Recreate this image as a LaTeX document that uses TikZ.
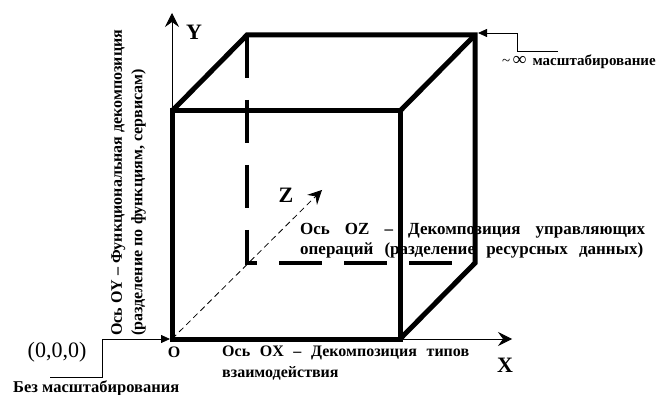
\documentclass[tikz,border=0pt]{standalone}
\usepackage{fontspec}
\setmainfont{Liberation Serif}
\usetikzlibrary{arrows.meta,positioning}
\tikzset{
  cubeedge/.style={line width=5pt,line join=miter},
  hiddenedge/.style={line width=4pt,dash pattern=on 43pt off 22pt},
  axis/.style={line width=0.8pt,-{Stealth[length=14pt,width=14pt,inset=5pt]}},
  zaxis/.style={axis,dash pattern=on 6pt off 4pt},
  callout/.style={line width=0.8pt,-{Triangle[length=9pt,width=8pt]}},
  axisname/.style={font=\fontsize{22}{24}\selectfont\bfseries,inner sep=0pt},
  caption/.style={font=\fontsize{16}{20.5}\selectfont\bfseries,align=left,inner sep=0pt}
}

\begin{document}
\begin{tikzpicture}[x=1pt,y=-1pt]
  \useasboundingbox (0,0) rectangle (661,395);
  % cube corners
  \coordinate (O) at (172,339);
  \coordinate (B) at (400,339);
  \coordinate (C) at (400,111);
  \coordinate (D) at (172,111);
  \coordinate (E) at (247,263);
  \coordinate (F) at (475,263);
  \coordinate (G) at (475,35);
  \coordinate (H) at (247,35);
  % axes
  \coordinate (xtip) at (512,339);
  \coordinate (ytip) at (172,13);
  \coordinate (ztip) at (322,190);
  \draw[axis] (O) -- (xtip);
  \draw[axis] (O) -- (ytip);
  \draw[zaxis] (O) -- (ztip);
  \node[axisname] (xname) at (505,365) {X};
  \node[axisname] (yname) at (194,32) {Y};
  \node[axisname] (zname) at (286,195) {Z};
  % captions
  \node[caption,anchor=north west] (oxlabel) at (222,346)
    {\makebox[247pt][s]{Ось OX – Декомпозиция типов}\\взаимодействия};
  \node[caption,anchor=north west,rotate=90] (oylabel) at (111,336)
    {Ось OY – Функциональная декомпозиция\\\makebox[267pt][s]{(разделение по функциям, сервисам)}};
  \node[caption,font=\fontsize{17}{20}\selectfont\bfseries,anchor=north west] (ozlabel) at (300,223)
    {\makebox[345pt][s]{Ось OZ – Декомпозиция управляющих}\\\makebox[343pt][s]{операций (разделение ресурсных данных)}};
  \node[caption] (oname) at (174,352) {O};
  \node[font=\fontsize{22}{24}\selectfont,inner sep=0pt] (origin) at (57,352) {(0,0,0)};
  \node[caption,font=\fontsize{16.5}{20}\selectfont\bfseries,anchor=base west] (noscale) at (13,392) {Без масштабирования};
  \node[caption,font=\fontsize{15}{20}\selectfont\bfseries,anchor=base west] (infscale) at (502,66)
    {{\mdseries\textasciitilde}\,{\fontsize{19}{20}\selectfont ∞}\, масштабирование};
  % callouts
  \coordinate (nsend) at (50,377);
  \coordinate (nsbend) at (102,339);
  \draw[callout] (nsend) -| (nsbend) -- ([xshift=-2pt]O);
  \coordinate (isend) at (558,51);
  \coordinate (isbend) at (517,33);
  \draw[callout] (isend) -| (isbend) -- ([shift={(3,-2)}]G);
  % cube
  \draw[hiddenedge] (H) -- (E) -- (F);
  \draw[cubeedge] (O) rectangle (C);
  \draw[cubeedge] (D) -- (H) -- (G) -- (F) -- (B);
  \draw[cubeedge] (C) -- (G);
\end{tikzpicture}
\end{document}
